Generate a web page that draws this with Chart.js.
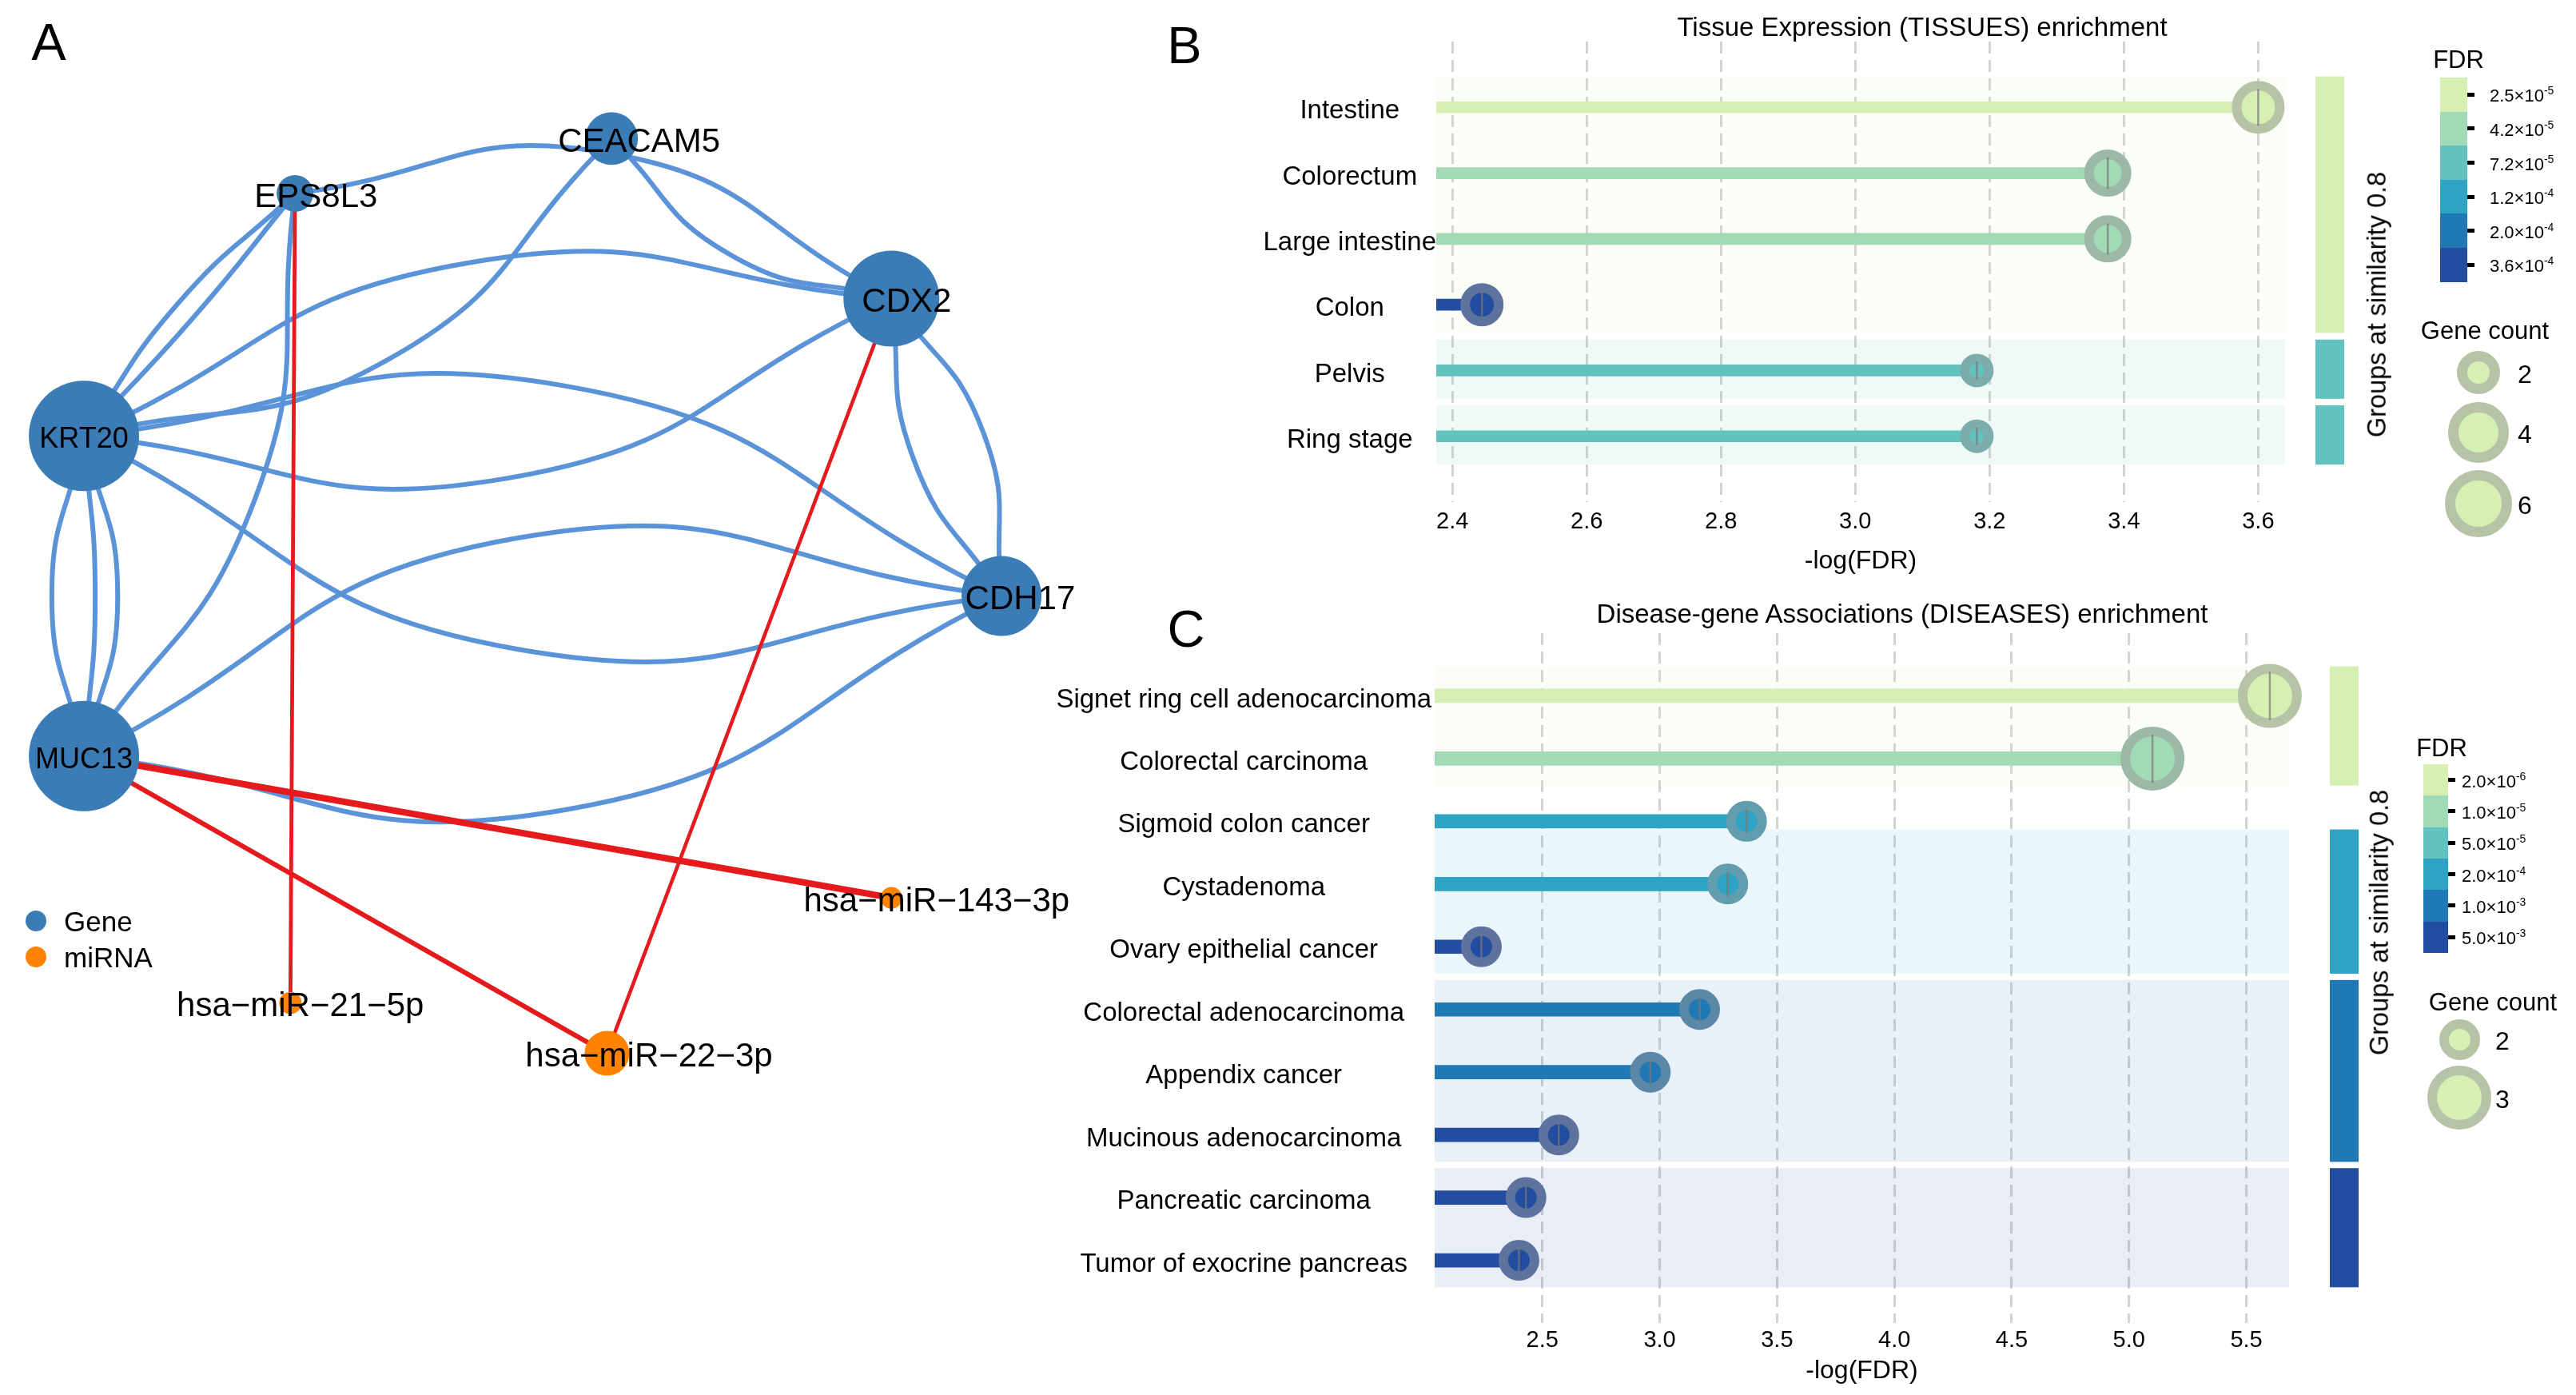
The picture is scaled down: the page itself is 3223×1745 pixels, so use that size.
<!DOCTYPE html>
<html lang="en">
<head>
<meta charset="UTF-8">
<meta name="viewport" content="width=device-width, initial-scale=1.0">
<title>Gene - miRNA network and enrichment</title>
<script src="https://cdn.jsdelivr.net/npm/chart.js"></script>
<style>
  html, body { margin: 0; padding: 0; background: #fff; }
  body { position: relative; width: 3223px; height: 1745px; overflow: hidden;
         font-family: "Liberation Sans", Arial, Helvetica, sans-serif; color: #000; }
  canvas { position: absolute; }
  .t { position: absolute; white-space: nowrap; line-height: 1; }
  .c { transform: translate(-50%, -50%); }
  .l { transform: translateY(-50%); }
  .rot { transform: translate(-50%, -50%) rotate(-90deg); }
  .box { position: absolute; box-sizing: border-box; }
  sup { font-size: 14px; vertical-align: 9px; line-height: 0; }
</style>
</head>
<body>
<canvas id="net" width="1400" height="1745" style="left:0px;top:0px"></canvas>
<canvas id="tissues" width="1973" height="740" style="left:1250px;top:0px"></canvas>
<canvas id="diseases" width="1973" height="1005" style="left:1250px;top:740px"></canvas>

<div class="t c" style="left:61px;top:52px;font-size:65px">A</div>
<div class="t c" style="left:1482px;top:56px;font-size:65px">B</div>
<div class="t c" style="left:1484px;top:786px;font-size:65px">C</div>

<script>
// ---------- panel A: gene / miRNA network ----------
const nodeNames  = ['CEACAM5', 'EPS8L3', 'CDX2', 'KRT20', 'CDH17', 'MUC13',
                    'hsa\u2212miR\u2212143\u22123p', 'hsa\u2212miR\u221221\u22125p', 'hsa\u2212miR\u221222\u22123p'];
const nodeKinds  = ['Gene', 'Gene', 'Gene', 'Gene', 'Gene', 'Gene', 'miRNA', 'miRNA', 'miRNA'];
const nodeX      = [0.15, -0.54, 0.76, -1.00, 1.00, -1.00, 0.76, -0.55, 0.14];
const nodeY      = [1.00, 0.88, 0.65, 0.35, 0.00, -0.35, -0.66, -0.89, -1.00];
const nodeSize   = [3.3, 2.3, 6.0, 6.9, 5.0, 6.9, 1.35, 1.4, 2.8];

const edgeFrom   = [1, 0, 0, 1, 1, 3, 3, 3, 3, 3, 3, 3, 1, 5, 5, 2, 2, 1, 2, 5, 5];
const edgeTo     = [2, 2, 3, 3, 3, 2, 2, 4, 4, 5, 5, 5, 5, 4, 4, 4, 4, 7, 8, 6, 8];
const edgeCurve  = [0.156, -0.13, 0.137, -0.05, 0.015, 0.13, -0.138, 0.142, -0.146,
                    -0.10, 0.035, 0.105, 0.116, 0.151, -0.146, -0.11, 0.125, 0, 0, 0, 0];
const edgeWeight = [1, 1, 1, 1, 1, 1, 1, 1, 1, 1, 1, 1, 1, 1, 1, 1, 1, 0.8, 0.75, 1.35, 1.0];

// ---------- panel B: TISSUES enrichment ----------
const tissueTerms  = ['Intestine', 'Colorectum', 'Large intestine', 'Colon', 'Pelvis', 'Ring stage'];
const tissueScore  = [3.600, 3.376, 3.376, 2.444, 3.181, 3.181];
const tissueGenes  = [6, 4, 4, 3, 2, 2];
const tissueFDR    = [2.5e-5, 4.2e-5, 4.2e-5, 3.6e-4, 7.2e-5, 7.2e-5];
const tissueGroup  = [1, 1, 1, 1, 2, 3];
const tissueTicks  = [2.4, 2.6, 2.8, 3.0, 3.2, 3.4, 3.6];
const tissueFDRBreaks   = [2.5e-5, 4.2e-5, 7.2e-5, 1.2e-4, 2.0e-4, 3.6e-4];
const tissueCountBreaks = [2, 4, 6];

// ---------- panel C: DISEASES enrichment ----------
const diseaseTerms = ['Signet ring cell adenocarcinoma', 'Colorectal carcinoma', 'Sigmoid colon cancer',
                      'Cystadenoma', 'Ovary epithelial cancer', 'Colorectal adenocarcinoma',
                      'Appendix cancer', 'Mucinous adenocarcinoma', 'Pancreatic carcinoma',
                      'Tumor of exocrine pancreas'];
const diseaseScore = [5.60, 5.10, 3.37, 3.29, 2.24, 3.17, 2.96, 2.57, 2.43, 2.40];
const diseaseGenes = [3, 3, 2, 2, 2, 2, 2, 2, 2, 2];
const diseaseFDR   = [2.0e-6, 1.0e-5, 2.0e-4, 2.0e-4, 5.0e-3, 1.0e-3, 1.0e-3, 5.0e-3, 5.0e-3, 5.0e-3];
const diseaseGroup = [1, 1, 2, 2, 2, 3, 3, 3, 4, 4];
const diseaseTicks = [2.5, 3.0, 3.5, 4.0, 4.5, 5.0, 5.5];
const diseaseFDRBreaks   = [2.0e-6, 1.0e-5, 5.0e-5, 2.0e-4, 1.0e-3, 5.0e-3];
const diseaseCountBreaks = [2, 3];

// ---------- styling ----------
const FONT = '"Liberation Sans", Arial, Helvetica, sans-serif';
const GENE_COL = '#3b7cb7', MIR_COL = '#ff8300', BLUE_EDGE = '#5b93d8', RED_EDGE = '#e41a1c';
const PALETTE = ['#d6efb3', '#a1dab4', '#62c2bf', '#2ea3c3', '#2079b5', '#234da0'];
// horizontal anchor of each node label (0.5 = centred on the node)
const labelHjust = [0.33, 0.33, 0.33, 0.5, 0.33, 0.5, 0.33, 0.46, 0.33];
Chart.defaults.font.family = FONT;
Chart.defaults.color = '#000';

function mixGrey(hex) {
  const n = parseInt(hex.slice(1), 16);
  const c = [(n >> 16) & 255, (n >> 8) & 255, n & 255];
  const g = [150, 150, 153];
  return 'rgb(' + c.map((v, i) => Math.round(v * 0.5 + g[i] * 0.5)).join(',') + ')';
}
function fdrColour(v, breaks) {
  let best = 0;
  breaks.forEach((b, i) => {
    if (Math.abs(Math.log(v / b)) < Math.abs(Math.log(v / breaks[best]))) best = i;
  });
  return PALETTE[best];
}
function sci(v) {
  const e = Math.floor(Math.log10(v) + 1e-9);
  return (v / Math.pow(10, e)).toFixed(1) + '\u00d710<sup>' + e + '</sup>';
}
function sizeScale(lo, hi, rMin, rMax) {
  return v => rMin + (rMax - rMin) * Math.sqrt((v - lo) / (hi - lo));
}

// ---------- network chart ----------
const netData = [{
  type: 'bubble',
  data: nodeX.map((x, i) => ({x: x, y: nodeY[i], r: nodeSize[i] * 10})),
  backgroundColor: nodeKinds.map(k => k === 'Gene' ? GENE_COL : MIR_COL),
  borderWidth: 0,
  clip: false,
  order: 0
}];
edgeFrom.forEach((a, k) => {
  const b = edgeTo[k];
  const p0 = {x: nodeX[a], y: nodeY[a]}, p1 = {x: nodeX[b], y: nodeY[b]};
  const dx = p1.x - p0.x, dy = p1.y - p0.y;
  const pts = edgeCurve[k] === 0 ? [p0, p1] : [p0, {
    x: (p0.x + p1.x) / 2 - edgeCurve[k] * dy,
    y: (p0.y + p1.y) / 2 + edgeCurve[k] * dx
  }, p1];
  const isMir = nodeKinds[a] === 'miRNA' || nodeKinds[b] === 'miRNA';
  netData.push({
    type: 'line', data: pts, tension: 0.5, pointRadius: 0, fill: false, clip: false,
    borderColor: isMir ? RED_EDGE : BLUE_EDGE,
    borderWidth: 6 * edgeWeight[k],
    order: isMir ? 1 : 2
  });
});

const nodeLabels = {
  id: 'nodeLabels',
  afterDatasetsDraw(chart) {
    const ctx = chart.ctx;
    const meta = chart.getDatasetMeta(0);
    ctx.save();
    ctx.fillStyle = '#000';
    ctx.textBaseline = 'middle';
    ctx.textAlign = 'left';
    meta.data.forEach((pt, i) => {
      const big = nodeSize[i] > 6.5;
      ctx.font = (big ? 36 : 42) + 'px ' + FONT;
      const w = ctx.measureText(nodeNames[i]).width;
      ctx.fillText(nodeNames[i], pt.x - w * labelHjust[i], pt.y + 5);
    });
    ctx.restore();
  }
};

new Chart(document.getElementById('net'), {
  type: 'bubble',
  data: {datasets: netData},
  options: {
    responsive: false, animation: false, devicePixelRatio: 1, events: [],
    layout: {padding: 0, autoPadding: false},
    plugins: {legend: {display: false}, tooltip: {enabled: false}},
    scales: {
      x: {type: 'linear', min: -1.183, max: 1.256, display: false},
      y: {type: 'linear', min: -1.747, max: 1.303, display: false}
    }
  },
  plugins: [nodeLabels]
});

// ---------- lollipop charts ----------
const groupBands = {
  id: 'groupBands',
  beforeDatasetsDraw(chart, args, o) {
    const {ctx, chartArea: a, scales: {y}} = chart;
    ctx.save();
    o.spans.forEach(s => {
      const y0 = y.getPixelForValue(s.from - 0.47 + s.shift);
      const y1 = y.getPixelForValue(s.to + 0.43);
      ctx.fillStyle = s.color;
      ctx.globalAlpha = 0.1;
      ctx.fillRect(a.left, y0, a.right - a.left, y1 - y0);
      ctx.globalAlpha = 1;
      ctx.fillRect(a.right + o.gap, y0, o.width, y1 - y0);
    });
    ctx.restore();
  }
};

function lollipop(id, cfg) {
  const rows = cfg.terms.map((_, i) => i + 1);
  const fill = cfg.fdr.map(v => fdrColour(v, cfg.breaks));
  const inner = cfg.genes.map(cfg.size);
  const spans = [...new Set(cfg.groups)].map(g => {
    const idx = rows.filter((r, i) => cfg.groups[i] === g);
    return {from: idx[0], to: idx[idx.length - 1], color: fill[idx[0] - 1], shift: (cfg.bandShift || {})[g] || 0};
  });
  return new Chart(document.getElementById(id), {
    type: 'bubble',
    data: {datasets: [
      {type: 'scatter', data: rows.map((r, i) => ({x: cfg.score[i], y: r})),
       pointStyle: 'line', pointRotation: 90, pointRadius: inner.map(v => v + 2),
       pointBorderColor: 'rgba(120,120,120,0.7)', pointBorderWidth: 2.5, clip: false, order: 0},
      {type: 'bubble', data: rows.map((r, i) => ({x: cfg.score[i], y: r, r: inner[i] + cfg.ring / 2})),
       backgroundColor: fill, borderColor: fill.map(mixGrey), borderWidth: cfg.ring, clip: false, order: 1},
      {type: 'bar', indexAxis: 'y', data: rows.map((r, i) => ({x: cfg.score[i], y: r})),
       backgroundColor: fill, barThickness: cfg.bar, order: 2}
    ]},
    options: {
      responsive: false, animation: false, devicePixelRatio: 1, events: [],
      layout: {padding: {top: cfg.padTop, right: cfg.padRight, left: 0, bottom: 0}, autoPadding: false},
      plugins: {legend: {display: false}, tooltip: {enabled: false},
                groupBands: {spans: spans, gap: cfg.groupGap, width: 36}},
      scales: {
        x: {type: 'linear', min: cfg.min, max: cfg.max, offset: false,
            grid: {color: '#d3d3d3', lineWidth: 3, drawTicks: false, borderDash: [15, 8], offset: false},
            border: {display: false, dash: [15, 8]},
            afterBuildTicks: s => { s.ticks = cfg.ticks.map(v => ({value: v})); },
            ticks: {font: {size: 29}, color: '#000', padding: cfg.tickPad, maxRotation: 0, autoSkip: false,
                    callback: v => Number(v).toFixed(1)},
            title: {display: true, text: '-log(FDR)', font: {size: 32}, color: '#000',
                    padding: {top: 0, bottom: cfg.titlePad}},
            afterFit: s => { s.height = cfg.xHeight; }},
        y: {type: 'linear', reverse: true, min: 0, max: rows.length + 1, offset: false,
            grid: {display: false, drawTicks: false, offset: false}, border: {display: false},
            afterBuildTicks: s => { s.ticks = rows.map(v => ({value: v})); },
            ticks: {font: {size: 33}, color: '#000', crossAlign: 'center', padding: cfg.labelPad,
                    labelOffset: 5, autoSkip: false, callback: v => cfg.terms[v - 1] || ''},
            afterFit: s => { s.width = cfg.yWidth; }}
      }
    },
    plugins: [groupBands]
  });
}

const tissueSize = sizeScale(2, 6, 9, 21);
const diseaseSize = sizeScale(2, 3, 13.5, 28);

lollipop('tissues', {
  terms: tissueTerms, score: tissueScore, genes: tissueGenes, fdr: tissueFDR, groups: tissueGroup,
  ticks: tissueTicks, breaks: tissueFDRBreaks, size: tissueSize,
  min: 2.376, max: 3.640, ring: 12, bar: 14,
  padTop: 52, padRight: 364, yWidth: 547, xHeight: 112, tickPad: 8, titlePad: 19, labelPad: 0,
  groupGap: 38
});
lollipop('diseases', {
  terms: diseaseTerms, score: diseaseScore, genes: diseaseGenes, fdr: diseaseFDR, groups: diseaseGroup,
  ticks: diseaseTicks, breaks: diseaseFDRBreaks, size: diseaseSize, bandShift: {2: 0.6},
  min: 2.041, max: 5.682, ring: 12, bar: 17,
  padTop: 52, padRight: 359, yWidth: 545, xHeight: 90, tickPad: 5, titlePad: 11, labelPad: 4,
  groupGap: 51
});

// ---------- titles and legends (HTML text) ----------
function add(html, style, cls) {
  const d = document.createElement('div');
  d.className = cls;
  d.style.cssText = style;
  d.innerHTML = html;
  document.body.appendChild(d);
  return d;
}

add('Tissue Expression (TISSUES) enrichment', 'left:2405px;top:33px;font-size:33px', 't c');
add('Disease-gene Associations (DISEASES) enrichment', 'left:2380px;top:767px;font-size:33px', 't c');
add('Groups at similarity 0.8', 'left:2974px;top:381px;font-size:32.5px', 't rot');
add('Groups at similarity 0.8', 'left:2977px;top:1154px;font-size:32.5px', 't rot');

// network legend
[['Gene', GENE_COL, 1152], ['miRNA', MIR_COL, 1197]].forEach(([txt, col, y]) => {
  add('', `left:32px;top:${y - 13}px;width:26px;height:26px;border-radius:50%;background:${col}`, 'box');
  add(txt, `left:80px;top:${y}px;font-size:35px`, 't l');
});

function fdrLegend(o) {
  add('FDR', `left:${o.titleX}px;top:${o.titleY}px;font-size:31px`, 't c');
  o.breaks.forEach((b, i) => {
    const y = o.barTop + i * o.binH;
    add('', `left:${o.barX}px;top:${y}px;width:${o.barW}px;height:${o.binH + 0.6}px;background:${PALETTE[i]}`, 'box');
    add('', `left:${o.barX + o.barW}px;top:${y + o.binH / 2 - 2.5}px;width:9px;height:5px;background:#000`, 'box');
    add(sci(b), `left:${o.labelX}px;top:${y + o.binH / 2 + 2}px;font-size:22px`, 't l');
  });
  add('Gene count', `left:${o.countX}px;top:${o.countY}px;font-size:31px`, 't c');
  o.counts.forEach((c, i) => {
    const R = o.keySize(c) + o.ring;
    const cy = o.keyY[i];
    add('', `left:${o.keyX - R}px;top:${cy - R}px;width:${2 * R}px;height:${2 * R}px;border-radius:50%;` +
        `background:${PALETTE[0]};border:${o.ring}px solid ${mixGrey(PALETTE[0])}`, 'box');
    add(String(c), `left:${o.keyLabelX}px;top:${cy + 2}px;font-size:32px`, 't l');
  });
}

fdrLegend({
  breaks: tissueFDRBreaks, counts: tissueCountBreaks,
  titleX: 3076, titleY: 74, barX: 3053, barW: 34, barTop: 97, binH: 42.6, labelX: 3115,
  countX: 3109, countY: 413, keyX: 3101, keyY: [466, 541, 630], keyLabelX: 3150,
  keySize: sizeScale(2, 6, 14, 29), ring: 13
});
fdrLegend({
  breaks: diseaseFDRBreaks, counts: diseaseCountBreaks,
  titleX: 3055, titleY: 935, barX: 3032, barW: 31, barTop: 956, binH: 39.3, labelX: 3080,
  countX: 3119, countY: 1253, keyX: 3077, keyY: [1300, 1373], keyLabelX: 3122,
  keySize: diseaseSize, ring: 12
});
</script>
</body>
</html>
